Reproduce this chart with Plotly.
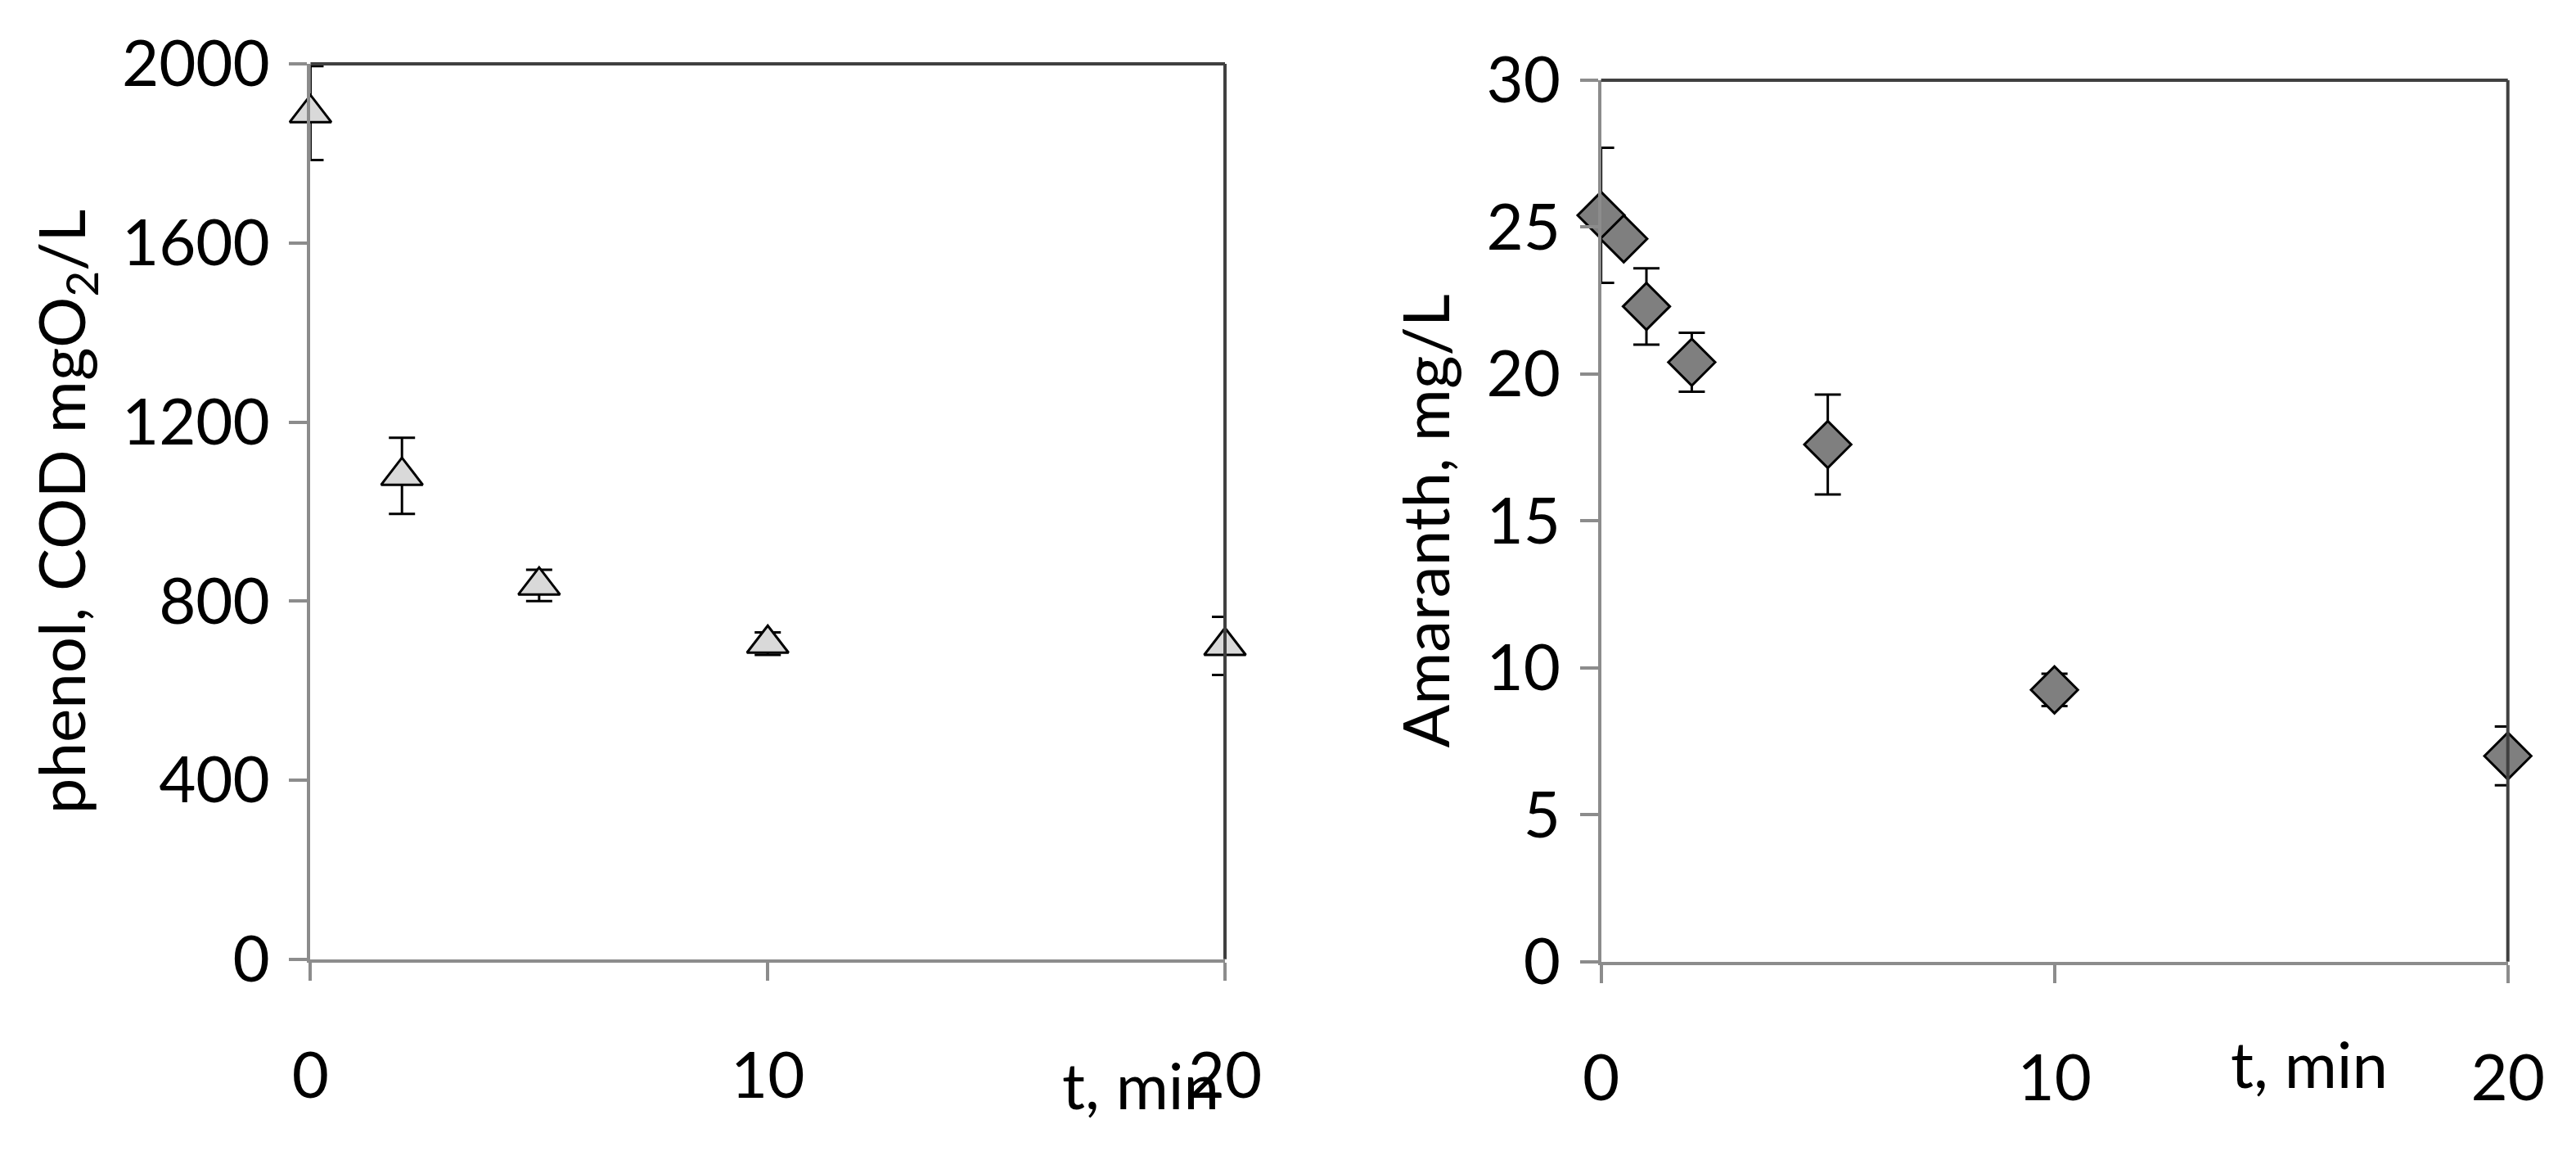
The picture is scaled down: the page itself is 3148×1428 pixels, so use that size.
import plotly.graph_objects as go

t_phenol = [0, 2, 5, 10, 20]
cod = [1890, 1080, 835, 705, 700]
cod_err = [105, 85, 35, 25, 65]

t_am = [0, 0.5, 1, 2, 5, 10, 20]
amaranth = [25.4, 24.6, 22.3, 20.4, 17.6, 9.25, 7.0]
am_err = [2.3, 0.3, 1.3, 1.0, 1.7, 0.55, 1.0]

FONT = "Lato"
fig = go.Figure()
fig.add_trace(go.Scatter(x=t_phenol, y=cod, mode="markers",
    marker=dict(symbol="triangle-up", size=44, color="#d9d9d9", line=dict(color="black", width=3)),
    error_y=dict(type="data", array=cod_err, color="black", thickness=3, width=16),
    xaxis="x", yaxis="y", cliponaxis=False))
fig.add_trace(go.Scatter(x=t_am, y=amaranth, mode="markers",
    marker=dict(symbol="diamond", size=44, color="#7f7f7f", line=dict(color="black", width=3)),
    error_y=dict(type="data", array=am_err, color="black", thickness=3, width=16),
    xaxis="x2", yaxis="y2", cliponaxis=False))

ax = dict(showgrid=False, zeroline=False, showline=True, linecolor="#8c8c8c", linewidth=4,
          ticks="outside", tickcolor="#8c8c8c", tickwidth=4, ticklen=22, automargin=False,
          tickfont=dict(family=FONT, size=78, color="black"))
fig.update_layout(
    width=3148, height=1428, margin=dict(l=0, r=0, t=0, b=0),
    paper_bgcolor="white", plot_bgcolor="white", showlegend=False,
    xaxis=dict(ax, domain=[0.118, 0.473], range=[0, 20], tickvals=[0, 10, 20], ticklabelstandoff=50, anchor="y"),
    yaxis=dict(ax, domain=[0.185, 0.951], range=[0, 2000], tickvals=[0, 400, 800, 1200, 1600, 2000], anchor="x",
               ticklabelstandoff=8,
               title=dict(text="phenol, COD mgO<sub>2</sub>/L", font=dict(family=FONT, size=78, color="black"), standoff=20)),
    xaxis2=dict(ax, domain=[0.619, 0.971], range=[0, 20], tickvals=[0, 10, 20], ticklabelstandoff=50, anchor="y2"),
    yaxis2=dict(ax, domain=[0.183, 0.937], range=[0, 30], tickvals=[0, 5, 10, 15, 20, 25, 30], anchor="x2",
                ticklabelstandoff=8,
                title=dict(text="Amaranth, mg/L", font=dict(family=FONT, size=78, color="black"), standoff=20)),
)
for xr, yr in [("x", "y"), ("x2", "y2")]:
    fig.add_shape(type="line", xref=xr + " domain", yref=yr + " domain", x0=0, x1=1, y0=1, y1=1,
                  line=dict(color="#404040", width=4))
    fig.add_shape(type="line", xref=xr + " domain", yref=yr + " domain", x0=1, x1=1, y0=0, y1=1,
                  line=dict(color="#404040", width=4))
fig.add_annotation(text="t, min", x=1386/3148, y=1-1366/1428, xref="paper", yref="paper",
                   showarrow=False, font=dict(family=FONT, size=78, color="black"))
fig.add_annotation(text="t, min", x=2912/3148, y=1-1340/1428, xref="paper", yref="paper",
                   showarrow=False, font=dict(family=FONT, size=78, color="black"))
fig.write_html("out.html")
